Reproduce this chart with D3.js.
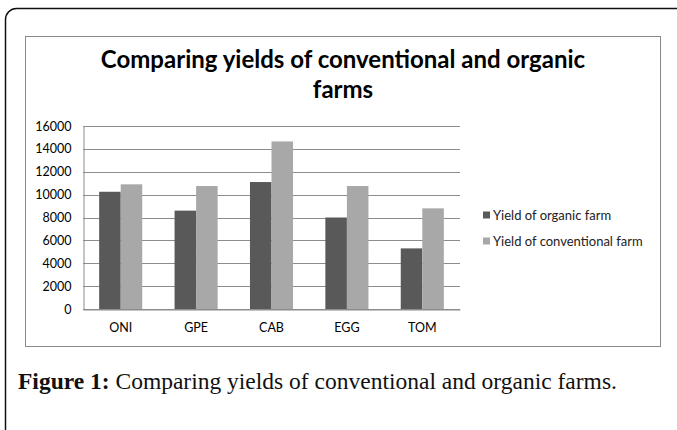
<!DOCTYPE html>
<html>
<head>
<meta charset="utf-8">
<script src="https://cdn.jsdelivr.net/npm/d3@7"></script>
<style>
  body { margin: 0; background: #fff; }
  svg { display: block; }
</style>
</head>
<body>
<div id="chart"></div>
<script>
var width = 677,
	height = 430;

// data
var categories = ["ONI", "GPE", "CAB", "EGG", "TOM"];
var organic = [10250, 8600, 11100, 8000, 5300];
var conventional = [10900, 10750, 14650, 10750, 8800];
var seriesNames = ["Yield of organic farm", "Yield of conventional farm"];
var seriesColors = ["#595959", "#a8a8a8"];
var yTicks = [0, 2000, 4000, 6000, 8000, 10000, 12000, 14000, 16000];

var plot = { left: 83, right: 460, top: 126, bottom: 309 };

var svg = d3.select("#chart").append("svg")
	.attr("width", width)
	.attr("height", height);

// outer rounded frame, runs off the right and bottom edges
svg.append("rect")
	.attr("x", 5.5)
	.attr("y", 8.5)
	.attr("width", 700)
	.attr("height", 460)
	.attr("rx", 11)
	.attr("fill", "none")
	.attr("stroke", "#111")
	.attr("stroke-width", 1.5);

// chart area box
svg.append("rect")
	.attr("x", 25.5)
	.attr("y", 36.5)
	.attr("width", 635)
	.attr("height", 310)
	.attr("fill", "#fff")
	.attr("stroke", "#8a8a8a");

var title = svg.append("text")
	.attr("text-anchor", "middle")
	.attr("font-family", "Lato, 'Open Sans', sans-serif")
	.attr("font-weight", "bold")
	.attr("font-size", 24)
	.attr("fill", "#000");
title.append("tspan").attr("x", 343).attr("y", 68).text("Comparing yields of conventional and organic");
title.append("tspan").attr("x", 343).attr("y", 98).text("farms");

var x = d3.scaleBand()
	.domain(categories)
	.range([plot.left, plot.right]);

var x1 = d3.scaleBand()
	.domain([0, 1])
	.range([0, x.bandwidth()])
	.paddingInner(0)
	.paddingOuter(0.75);

var y = d3.scaleLinear()
	.domain([0, 16000])
	.range([plot.bottom, plot.top]);

// gridlines
svg.append("g")
	.selectAll("line")
	.data(yTicks)
	.enter().append("line")
	.attr("x1", plot.left)
	.attr("x2", plot.right)
	.attr("y1", function(d) { return Math.round(y(d)) + 0.5; })
	.attr("y2", function(d) { return Math.round(y(d)) + 0.5; })
	.attr("stroke", "#8c8c8c");

// y axis
var yAxis = svg.append("g")
	.attr("transform", "translate(" + (plot.left + 0.5) + ",0)")
	.call(d3.axisLeft(y).tickValues(yTicks).tickSize(0).tickPadding(12).tickFormat(d3.format("d")));
yAxis.select(".domain").attr("stroke", "#8c8c8c");
yAxis.selectAll("text")
	.attr("font-family", "Lato, 'Open Sans', sans-serif")
	.attr("font-size", 12.5)
	.attr("fill", "#000");

// x axis
var xAxis = svg.append("g")
	.attr("transform", "translate(0," + (Math.round(plot.bottom) + 0.5) + ")")
	.call(d3.axisBottom(x).tickSize(0).tickPadding(14));
xAxis.select(".domain").attr("stroke", "#8c8c8c");
xAxis.selectAll("text")
	.attr("font-family", "Lato, 'Open Sans', sans-serif")
	.attr("font-size", 12.5)
	.attr("fill", "#000");

// bars
var groups = svg.append("g")
	.selectAll("g")
	.data(categories)
	.enter().append("g")
	.attr("transform", function(d) { return "translate(" + x(d) + ",0)"; });

groups.selectAll("rect")
	.data(function(d, i) { return [organic[i], conventional[i]]; })
	.enter().append("rect")
	.attr("x", function(d, j) { return x1(j); })
	.attr("width", x1.bandwidth())
	.attr("y", function(d) { return y(d); })
	.attr("height", function(d) { return y(0) - y(d); })
	.attr("fill", function(d, j) { return seriesColors[j]; });

// legend
var legend = svg.append("g")
	.selectAll("g")
	.data(seriesNames)
	.enter().append("g")
	.attr("transform", function(d, i) { return "translate(483," + (215 + i * 26) + ")"; });

legend.append("rect")
	.attr("x", 0)
	.attr("y", -3.5)
	.attr("width", 7)
	.attr("height", 7)
	.attr("fill", function(d, i) { return seriesColors[i]; });

legend.append("text")
	.attr("x", 10)
	.attr("dy", "0.35em")
	.attr("font-family", "Lato, 'Open Sans', sans-serif")
	.attr("font-size", 13)
	.attr("fill", "#222")
	.text(function(d) { return d; });

// caption
var caption = svg.append("text")
	.attr("x", 18)
	.attr("y", 389)
	.attr("font-family", "'Liberation Serif', 'DejaVu Serif', serif")
	.attr("font-size", 23.5)
	.attr("fill", "#111");
caption.append("tspan").attr("font-weight", "bold").text("Figure 1:");
caption.append("tspan").text(" Comparing yields of conventional and organic farms.");
</script>
</body>
</html>
